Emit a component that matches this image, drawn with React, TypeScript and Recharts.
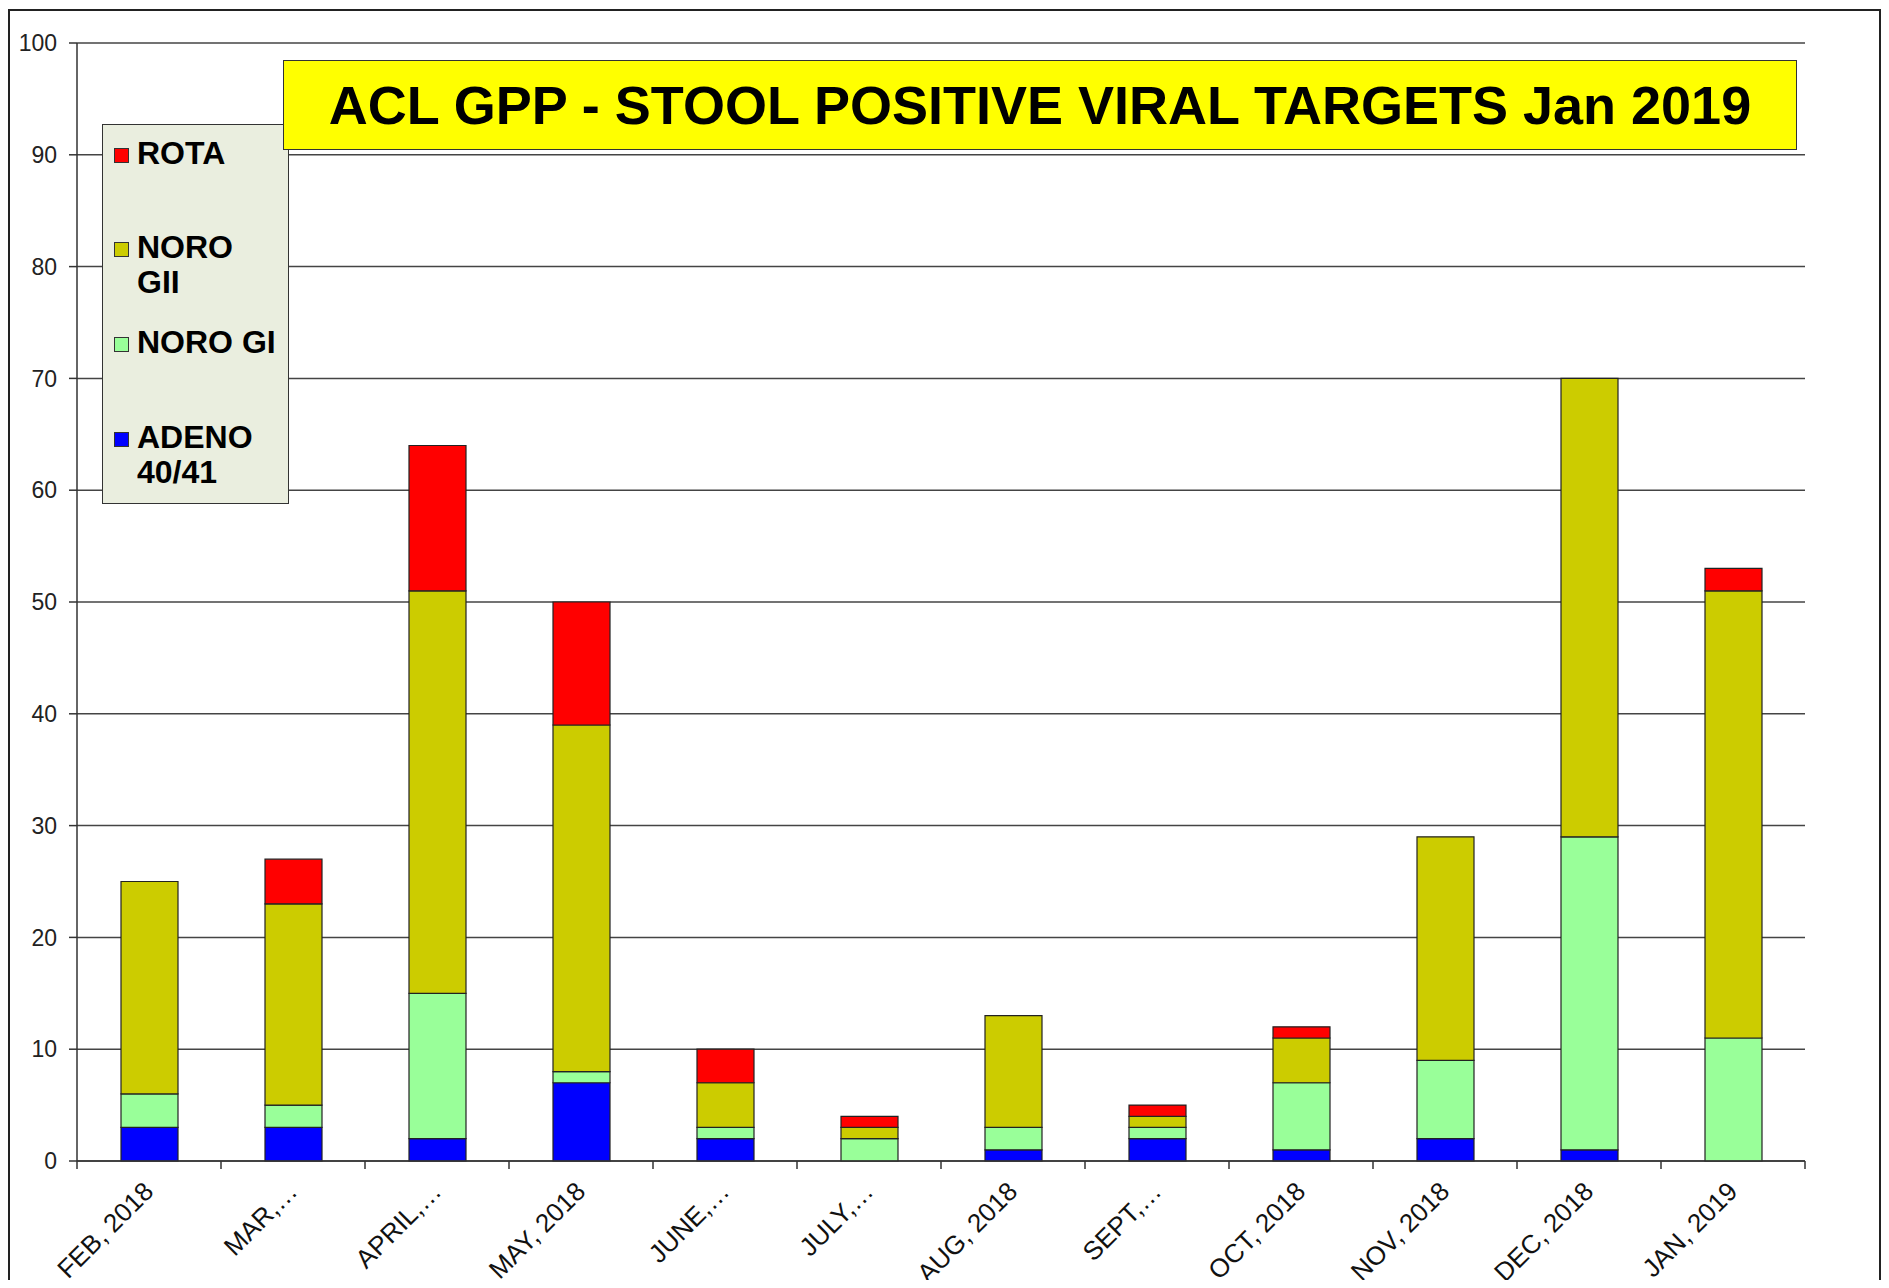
import React from "react";
import { BarChart, Bar, XAxis, YAxis, CartesianGrid } from "recharts";

const months = ["FEB, 2018", "MAR,…", "APRIL,…", "MAY, 2018", "JUNE,…", "JULY,…", "AUG, 2018", "SEPT,…", "OCT, 2018", "NOV, 2018", "DEC, 2018", "JAN, 2019"];
const adeno = [3, 3, 2, 7, 2, 0, 1, 2, 1, 2, 1, 0];
const noroGI = [3, 2, 13, 1, 1, 2, 2, 1, 6, 7, 28, 11];
const noroGII = [19, 18, 36, 31, 4, 1, 10, 1, 4, 20, 41, 40];
const rota = [0, 4, 13, 11, 3, 1, 0, 1, 1, 0, 0, 2];
const yTicks = [0, 10, 20, 30, 40, 50, 60, 70, 80, 90, 100];

const data = months.map((m, i) => ({
  month: m,
  adeno: adeno[i],
  noroGI: noroGI[i],
  noroGII: noroGII[i],
  rota: rota[i],
}));

const FONT = "'Liberation Sans', Arial, Helvetica, sans-serif";
const W = 1873;
const H = 1280;
const TICK_SIZE = 8;
const TICK_MARGIN = 10;

const legendItems = [
  { label: ["ROTA"], color: "#FF0000", top: 11 },
  { label: ["NORO", "GII"], color: "#CCCC00", top: 105 },
  { label: ["NORO GI"], color: "#99FF99", top: 200 },
  { label: ["ADENO", "40/41"], color: "#0000FF", top: 295 },
];

function XTick(props: any) {
  const { x, y, payload } = props;
  const off = payload && typeof payload.offset === "number" && payload.offset > 0 ? payload.offset : 72;
  const axisY = y - TICK_SIZE - TICK_MARGIN;
  const isLast = payload && payload.value === months[months.length - 1];
  const ax = x + 6;
  const ay = y + 14;
  return (
    <g>
      <line x1={x - off} x2={x - off} y1={axisY} y2={axisY + TICK_SIZE} stroke="#333" strokeWidth={1.5} />
      {isLast && <line x1={x + off} x2={x + off} y1={axisY} y2={axisY + TICK_SIZE} stroke="#333" strokeWidth={1.5} />}
      <text
        x={ax}
        y={ay}
        transform={`rotate(-45 ${ax} ${ay})`}
        textAnchor="end"
        fontSize={26}
        fontFamily={FONT}
        fill="#111"
      >
        {payload.value}
      </text>
    </g>
  );
}

export default function App() {
  return (
    <div style={{ position: "relative", width: W, height: H, marginBottom: -8, fontFamily: FONT }}>
      <BarChart
        width={W}
        height={H}
        data={data}
        margin={{ top: 35, right: 76, left: 0, bottom: 0 }}
        barSize={57}
      >
        <CartesianGrid vertical={false} stroke="#444" strokeWidth={1.5} />
        <XAxis
          dataKey="month"
          interval={0}
          height={127}
          tickSize={TICK_SIZE}
          tickMargin={TICK_MARGIN}
          tickLine={false}
          axisLine={{ stroke: "#333", strokeWidth: 1.5 }}
          tick={<XTick />}
        />
        <YAxis
          domain={[0, 100]}
          ticks={yTicks}
          width={69}
          tickSize={TICK_SIZE}
          tickMargin={12}
          interval={0}
          axisLine={{ stroke: "#333", strokeWidth: 1.5 }}
          tickLine={{ stroke: "#333", strokeWidth: 1.5 }}
          tick={{ fontSize: 23, fill: "#222", fontFamily: FONT }}
        />
        <Bar dataKey="adeno" stackId="a" fill="#0000FF" stroke="#222" strokeWidth={1.2} isAnimationActive={false} />
        <Bar dataKey="noroGI" stackId="a" fill="#99FF99" stroke="#222" strokeWidth={1.2} isAnimationActive={false} />
        <Bar dataKey="noroGII" stackId="a" fill="#CCCC00" stroke="#222" strokeWidth={1.2} isAnimationActive={false} />
        <Bar dataKey="rota" stackId="a" fill="#FF0000" stroke="#222" strokeWidth={1.2} isAnimationActive={false} />
      </BarChart>

      {/* outer border (top, left, right) */}
      <div
        style={{
          position: "absolute",
          left: 0,
          top: 1,
          width: W,
          height: H - 1,
          boxSizing: "border-box",
          borderTop: "2px solid #222",
          borderLeft: "2px solid #222",
          borderRight: "2px solid #222",
          pointerEvents: "none",
        }}
      />

      {/* legend */}
      <div
        style={{
          position: "absolute",
          left: 94,
          top: 116,
          width: 187,
          height: 380,
          boxSizing: "border-box",
          background: "#EAEEDF",
          border: "1.5px solid #333",
        }}
      >
        {legendItems.map((it) => (
          <div key={it.label.join(" ")} style={{ position: "absolute", left: 0, top: it.top, width: 185 }}>
            <div
              style={{
                position: "absolute",
                left: 11,
                top: 12,
                width: 15,
                height: 15,
                boxSizing: "border-box",
                background: it.color,
                border: "1px solid #333",
              }}
            />
            <div
              style={{
                position: "absolute",
                left: 34,
                top: 0,
                fontSize: 32,
                lineHeight: "35px",
                fontWeight: "bold",
                color: "#000",
                whiteSpace: "nowrap",
              }}
            >
              {it.label.map((l) => (
                <div key={l}>{l}</div>
              ))}
            </div>
          </div>
        ))}
      </div>

      {/* title */}
      <div
        style={{
          position: "absolute",
          left: 275,
          top: 52,
          width: 1514,
          height: 90,
          boxSizing: "border-box",
          background: "#FFFF00",
          border: "1.5px solid #333",
          display: "flex",
          alignItems: "center",
          justifyContent: "center",
          fontWeight: "bold",
          fontSize: 54,
          color: "#000",
          whiteSpace: "nowrap",
        }}
      >
        ACL GPP - STOOL POSITIVE VIRAL TARGETS Jan 2019
      </div>
    </div>
  );
}
